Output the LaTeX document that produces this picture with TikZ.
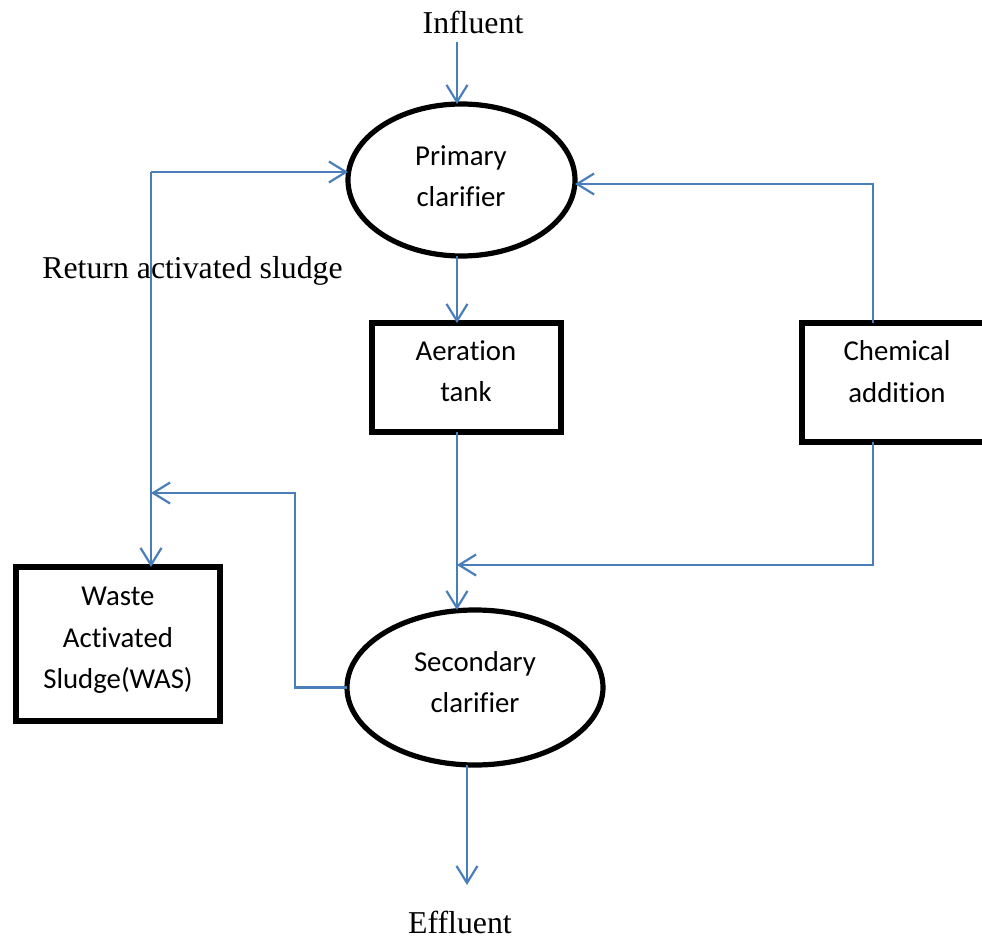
\documentclass[tikz,border=0pt]{standalone}
\usepackage{fontspec}
\setmainfont{Liberation Serif}
\newfontfamily\calib[Ligatures=NoCommon]{Carlito}
\usetikzlibrary{arrows.meta,shapes.geometric}
\definecolor{lineblue}{HTML}{4A7EBB}
\tikzset{
  flow/.style={draw=lineblue, line width=1.1pt, -{Straight Barb[length=8.5pt,width=10.5pt,line width=1.1pt]}},
  ell/.style={draw=black, line width=2.6pt, ellipse, inner sep=0pt, outer sep=0pt},
  boxnode/.style={draw=black, line width=2.6pt, rectangle, inner sep=0pt, outer sep=0pt},
  label/.style={font=\calib\fontsize{14.4pt}{20.75pt}\selectfont, align=center, inner sep=0pt},
  serif/.style={font=\fontsize{15.9pt}{19pt}\selectfont, inner sep=0pt}
}
\begin{document}
\begin{tikzpicture}[x=0.5pt,y=-0.5pt]
\useasboundingbox (0,0) rectangle (982,937);
\clip (0,0) rectangle (982,937);
% shapes
\node[ell, minimum width=113.5pt, minimum height=76pt] (pc) at (461.5,180) {};
\node[ell, minimum width=128pt, minimum height=77.5pt] (sc) at (475,687.5) {};
\node[boxnode, minimum width=94.5pt, minimum height=54.5pt] (at) at (466.5,377.5) {};
\node[boxnode, minimum width=120pt, minimum height=59.5pt] (ca) at (922,382.5) {};
\node[boxnode, minimum width=102pt, minimum height=77pt] (was) at (118,644) {};
% texts
\node[label] (pct) at (461,176) {Primary\\clarifier};
\node[label] (sct) at (475,682) {Secondary\\clarifier};
\node[label] (att) at (466,371) {Aeration\\tank};
\node[label] (cat) at (897,371.5) {Chemical\\addition};
\node[label] (wast) at (118,640.5) {Waste\\Activated\\Sludge(WAS)};
\node[serif, anchor=base] (infl) at (473,33) {Influent};
\node[serif, anchor=base] (effl) at (460,933) {Effluent};
\node[serif, anchor=base west] (ras) at (42,278) {Return activated sludge};
% helper coordinates
\coordinate (colA) at (457,0);
\coordinate (colB) at (873,0);
\coordinate (inTop) at (457,42);
\coordinate (jA) at (457,565);
\coordinate (jW) at (295,493);
\coordinate (jR) at (151,493);
\coordinate (r0) at (151,172);
\coordinate (e1) at (467,885);
% connectors
\draw[flow] (inTop) -- (inTop |- pc.north);
\draw[flow] (pc.south -| colA) -- (at.north -| colA);
\draw[flow] (at.south -| colA) -- (sc.north -| colA);
\draw[flow] (ca.north -| colB) |- ([yshift=-2pt]pc.east);
\draw[flow] (ca.south -| colB) |- (jA);
\draw[flow] (sc.west) -| (jW) -- (jR);
\draw[flow] (r0) -- (r0 -| pc.west);
\draw[flow] (r0) -- (r0 |- was.north);
\draw[flow] (sc.south -| e1) -- (e1);
\end{tikzpicture}
\end{document}
